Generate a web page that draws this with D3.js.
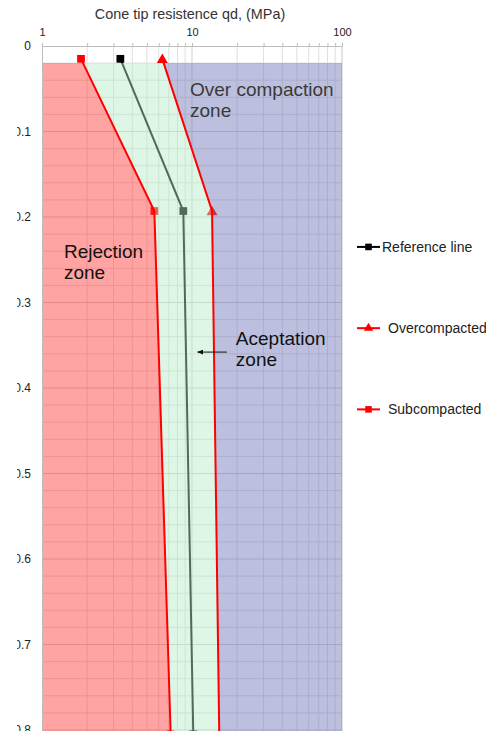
<!DOCTYPE html>
<html>
<head>
<meta charset="utf-8">
<script src="https://cdn.jsdelivr.net/npm/d3@7"></script>
<style>
  html, body { margin: 0; padding: 0; background: #fff; }
  svg { display: block; font-family: "Liberation Sans", Arial, sans-serif; }
</style>
</head>
<body>
<svg id="chart" width="486" height="731"></svg>
<script>
// Depth (m) of each profile point and cone tip resistance (MPa) per curve
const depths = [0.015, 0.193, 0.805];
const referenceLine = [3.33, 8.75, 10.2];
const overcompacted = [6.34, 13.6, 15.2];
const subcompacted = [1.82, 5.61, 7.21];

// Depth where the shaded zones begin
const zoneStart = 0.02;

const xTicks = [1, 10, 100];
const xGridMinor = [2, 3, 4, 5, 6, 7, 8, 9, 20, 30, 40, 50, 60, 70, 80, 90];
const yTicks = [0, 0.1, 0.2, 0.3, 0.4, 0.5, 0.6, 0.7, 0.8];
const yGridMinor = [0.02, 0.04, 0.06, 0.08, 0.12, 0.14, 0.16, 0.18, 0.22, 0.24, 0.26, 0.28,
  0.32, 0.34, 0.36, 0.38, 0.42, 0.44, 0.46, 0.48, 0.52, 0.54, 0.56, 0.58,
  0.62, 0.64, 0.66, 0.68, 0.72, 0.74, 0.76, 0.78];

const legendLabels = ["Reference line", "Overcompacted", "Subcompacted"];
const zoneLabels = [
  { lines: ["Over compaction", "zone"], x: 9.7, d: 0.058, color: "#3a3a3a" },
  { lines: ["Rejection", "zone"], x: 1.40, d: 0.248, color: "#111" },
  { lines: ["Aceptation", "zone"], x: 19.6, d: 0.35, color: "#111" }
];

const svg = d3.select("#chart");
const W = 486, H = 731;

const x = d3.scaleLog().domain([1, 100]).range([42, 342]);
const y = d3.scaleLinear().domain([0, 0.8]).range([46, 730]);

const defs = svg.append("defs");
defs.append("clipPath").attr("id", "zoneClip")
  .append("rect")
  .attr("x", x(1)).attr("y", y(zoneStart))
  .attr("width", x(100) - x(1)).attr("height", H - y(zoneStart));
defs.append("marker").attr("id", "arrowHead")
  .attr("viewBox", "0 0 10 10").attr("refX", 9).attr("refY", 5)
  .attr("markerWidth", 6).attr("markerHeight", 6).attr("orient", "auto")
  .append("path").attr("d", "M0,1 L10,5 L0,9 Z").attr("fill", "#111");

// Title
svg.append("text")
  .attr("x", (x(1) + x(100)) / 2 - 2).attr("y", 19)
  .attr("text-anchor", "middle").attr("font-size", 14.4).attr("fill", "#333")
  .text("Cone tip resistence qd, (MPa)");

// Gridlines
const grid = svg.append("g");
grid.selectAll(".vmin").data(xGridMinor).join("line")
  .attr("x1", d => x(d)).attr("x2", d => x(d))
  .attr("y1", y(0)).attr("y2", H)
  .attr("stroke", "#e0e0e0").attr("stroke-width", 1);
grid.append("line")
  .attr("x1", x(10)).attr("x2", x(10)).attr("y1", y(0)).attr("y2", H)
  .attr("stroke", "#cfcfcf");
grid.selectAll(".hmin").data(yGridMinor).join("line")
  .attr("x1", x(1)).attr("x2", x(100))
  .attr("y1", d => y(d)).attr("y2", d => y(d))
  .attr("stroke", "#e0e0e0");
grid.selectAll(".hmaj").data(yTicks.slice(1)).join("line")
  .attr("x1", x(1)).attr("x2", x(100))
  .attr("y1", d => y(d)).attr("y2", d => y(d))
  .attr("stroke", "#cfcfcf");
grid.append("line")
  .attr("x1", x(100)).attr("x2", x(100)).attr("y1", y(0)).attr("y2", H)
  .attr("stroke", "#c8c8c8");

// Curves and markers (the zones are drawn over them)
const pts = vals => vals.map((v, i) => [v, depths[i]]);
const line = d3.line().x(d => x(d[0])).y(d => y(d[1]));

svg.append("path").datum(pts(referenceLine))
  .attr("d", line).attr("fill", "none").attr("stroke", "#000").attr("stroke-width", 2);

const sq = d3.symbol().type(d3.symbolSquare).size(60);
const tri = d3.symbol().type(d3.symbolTriangle).size(52);
svg.append("g").selectAll("path").data(pts(referenceLine)).join("path")
  .attr("d", sq).attr("transform", d => `translate(${x(d[0])},${y(d[1])})`).attr("fill", "#000");
svg.append("g").selectAll("path").data(pts(subcompacted)).join("path")
  .attr("d", sq).attr("transform", d => `translate(${x(d[0])},${y(d[1])})`).attr("fill", "#ff0000");
svg.append("g").selectAll("path").data(pts(overcompacted)).join("path")
  .attr("d", tri).attr("transform", d => `translate(${x(d[0])},${y(d[1]) + 1})`).attr("fill", "#ff0000");

// Zones
const subPts = pts(subcompacted), overPts = pts(overcompacted);
const first = depths[0], last = depths[depths.length - 1];
const zoneArea = d3.line().x(d => x(d[0])).y(d => y(d[1]));
const zones = svg.append("g").attr("clip-path", "url(#zoneClip)");
zones.append("path")
  .attr("d", zoneArea([[1, first], ...subPts, [1, last]]) + "Z")
  .attr("fill", "rgb(255,51,51)").attr("fill-opacity", 0.45);
zones.append("path")
  .attr("d", zoneArea([...subPts, ...overPts.slice().reverse()]) + "Z")
  .attr("fill", "rgb(180,234,198)").attr("fill-opacity", 0.45);
zones.append("path")
  .attr("d", zoneArea([...overPts, [100, last], [100, first]]) + "Z")
  .attr("fill", "rgb(107,115,182)").attr("fill-opacity", 0.45);

// Zone boundary lines
[subcompacted, overcompacted].forEach(vals => {
  svg.append("path").datum(pts(vals))
    .attr("d", line).attr("fill", "none").attr("stroke", "#ff0000").attr("stroke-width", 2);
});

// Axes
const xAxis = svg.append("g").attr("transform", `translate(0,${y(0)})`)
  .call(d3.axisTop(x).tickValues([...xTicks, ...xGridMinor]).tickSize(3).tickPadding(7)
    .tickFormat(d => xTicks.includes(d) ? d3.format("d")(d) : ""));
xAxis.select(".domain").attr("stroke", "#bdbdbd");
xAxis.selectAll(".tick line").attr("stroke", "#bdbdbd");
xAxis.selectAll("text").attr("font-size", 11).attr("fill", "#222")
  .attr("font-family", "Liberation Sans, Arial, sans-serif");

// Depth labels sit against the left edge of the frame, which trims them
defs.append("clipPath").attr("id", "yAxisClip")
  .append("rect").attr("x", 17.2 - x(1)).attr("y", 0).attr("width", 60).attr("height", H);
const yAxis = svg.append("g").attr("transform", `translate(${x(1)},0)`)
  .attr("clip-path", "url(#yAxisClip)")
  .call(d3.axisLeft(y).tickValues(yTicks).tickSize(0).tickPadding(11)
    .tickFormat(d3.format(".1~f")));
yAxis.select(".domain").attr("stroke", "#bdbdbd");
yAxis.selectAll("text").attr("font-size", 12).attr("fill", "#222")
  .attr("font-family", "Liberation Sans, Arial, sans-serif");

// Zone labels
zoneLabels.forEach(z => {
  const t = svg.append("text").attr("font-size", 19).attr("fill", z.color)
    .attr("x", x(z.x)).attr("y", y(z.d));
  z.lines.forEach((s, i) => {
    t.append("tspan").attr("x", x(z.x)).attr("dy", i === 0 ? 0 : 21).text(s);
  });
});

// Arrow pointing into the acceptance zone
svg.append("line")
  .attr("x1", x(17.1)).attr("x2", x(10.9))
  .attr("y1", y(0.358)).attr("y2", y(0.358))
  .attr("stroke", "#111").attr("stroke-width", 1)
  .attr("marker-end", "url(#arrowHead)");

// Legend
const legendY = [0.235, 0.33, 0.425];
const legendColors = ["#000", "#ff0000", "#ff0000"];
const legendSymbols = [sq, tri, sq];
const lg = svg.append("g");
legendLabels.forEach((label, i) => {
  const gy = y(legendY[i]);
  lg.append("line").attr("x1", 357).attr("x2", 380).attr("y1", gy).attr("y2", gy)
    .attr("stroke", legendColors[i]).attr("stroke-width", 2);
  lg.append("path").attr("d", legendSymbols[i])
    .attr("transform", `translate(368.5,${gy}) scale(0.85)`)
    .attr("fill", legendColors[i]);
  lg.append("text").attr("x", i === 0 ? 382 : 388).attr("y", gy + 5)
    .attr("font-size", 14).attr("fill", "#222").text(label);
});
</script>
</body>
</html>
